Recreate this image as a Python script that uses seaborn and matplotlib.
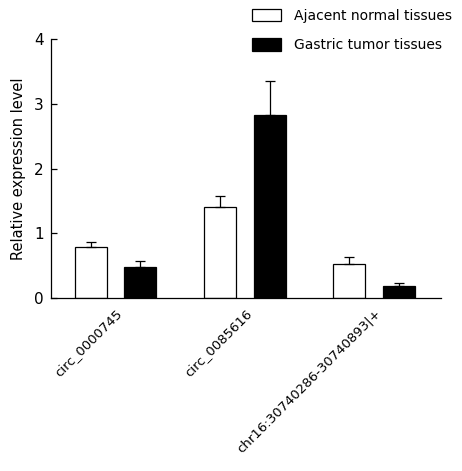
import numpy as np
import pandas as pd
from matplotlib import pyplot as plt
import seaborn as sns

genes = ['circ_0000745', 'circ_0085616', 'chr16:30740286-30740893|+']
groups = ['Ajacent normal tissues', 'Gastric tumor tissues']
normal_mean = [0.79, 1.40, 0.52]
normal_err = [0.08, 0.17, 0.11]
tumor_mean = [0.48, 2.83, 0.19]
tumor_err = [0.09, 0.52, 0.04]

df = pd.DataFrame({
    'gene': genes * 2,
    'group': [groups[0]] * 3 + [groups[1]] * 3,
    'value': normal_mean + tumor_mean,
    'err': normal_err + tumor_err,
})

sns.set_style("white", {'text.color': 'black', 'axes.labelcolor': 'black',
                        'xtick.color': 'black', 'ytick.color': 'black',
                        'ytick.direction': 'in'})
plt.rcParams['font.family'] = ['DejaVu Sans']

fig = plt.figure(figsize=(4.62, 4.71), dpi=100)
ax = fig.add_axes([0.110, 0.367, 0.845, 0.550])

sns.barplot(data=df, x='gene', y='value', hue='group', ax=ax,
            palette=['white', 'black'], edgecolor='black', linewidth=0.9,
            width=0.77, gap=0.356, errorbar=None, legend=True)

# one-sided error bars on top of each bar
for cont, grp in zip(ax.containers, groups):
    sub = df[df['group'] == grp]
    xs = [p.get_x() + p.get_width() / 2 for p in cont.patches]
    ax.errorbar(xs, sub['value'], yerr=[np.zeros(len(sub)), sub['err']],
                fmt='none', ecolor='black', elinewidth=0.9, capsize=3.4,
                capthick=0.9, zorder=1)

ax.set_ylim(0, 4)
ax.set_xlim(-0.5, 2.52)
ax.set_yticks([0, 1, 2, 3, 4])
ax.set_xlabel('')
ax.set_ylabel('Relative expression level', fontsize=10.5, labelpad=6, color='black')
ax.tick_params(axis='y', direction='in', length=4, width=0.9, labelsize=11, pad=5,
               left=True, colors='black')
ax.tick_params(axis='x', length=0, labelsize=9.5, pad=6, colors='black')
plt.setp(ax.get_xticklabels(), rotation=45, ha='right', rotation_mode='anchor')

sns.despine(ax=ax)
for s in ['left', 'bottom']:
    ax.spines[s].set_linewidth(0.9)
    ax.spines[s].set_color('black')

handles, labels = ax.get_legend_handles_labels()
leg = ax.legend(handles, labels, loc='upper left', bbox_to_anchor=(252 / 462, 1 - 9 / 471),
                bbox_transform=fig.transFigure, frameon=False, fontsize=10,
                handlelength=2.1, handleheight=1.0, handletextpad=0.9,
                labelspacing=1.1, borderpad=0, borderaxespad=0)
for t in leg.get_texts():
    t.set_color('black')

plt.savefig('out.png', dpi=100)
